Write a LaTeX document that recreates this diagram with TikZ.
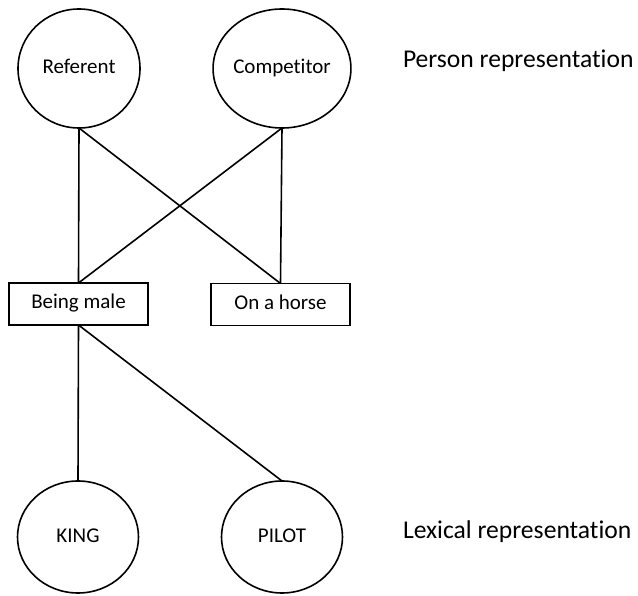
\documentclass[tikz,border=0pt]{standalone}
\usepackage{fontspec}
\setmainfont[Ligatures=NoCommon]{Carlito}
\usetikzlibrary{shapes.geometric}
\begin{document}
\begin{tikzpicture}[x=1pt,y=-1pt,
  every node/.style={inner sep=0pt,outer sep=0pt},
  lbl/.style={font=\fontsize{21}{24}\selectfont,text height=14pt,text depth=4pt},
  oval/.style={draw,line width=1.6pt,ellipse,lbl},
  feat/.style={draw,line width=1.6pt,rectangle,minimum width=139pt,minimum height=42pt,lbl},
  link/.style={line width=1.6pt},
  side/.style={anchor=west,font=\fontsize{25.6}{28}\selectfont,text height=17pt,text depth=5pt}]
\useasboundingbox (0,0) rectangle (638,596);
\node[oval,minimum width=122pt,minimum height=119pt] (ref) at (79,68.5) {Referent};
\node[oval,minimum width=121pt,minimum height=119pt] (comp) at (282,68.5) {Competitor};
\node[feat] (male) at (78.5,304) {Being male};
\node[feat] (horse) at (280.5,304.5) {On a horse};
\node[oval,minimum width=121pt,minimum height=112pt] (king) at (78,537) {KING};
\node[oval,minimum width=121pt,minimum height=112pt] (pilot) at (282,537) {PILOT};
\node[side] (person) at (403,62) {Person representation};
\node[side] (lexical) at (403,532) {Lexical representation};
\draw[link] (ref.south) -- (male.north);
\draw[link] (ref.south) -- (horse.north);
\draw[link] (comp.south) -- (male.north);
\draw[link] (comp.south) -- (horse.north);
\draw[link] (male.south) -- (king.north);
\draw[link] (male.south) -- (pilot.north);
\end{tikzpicture}
\end{document}
